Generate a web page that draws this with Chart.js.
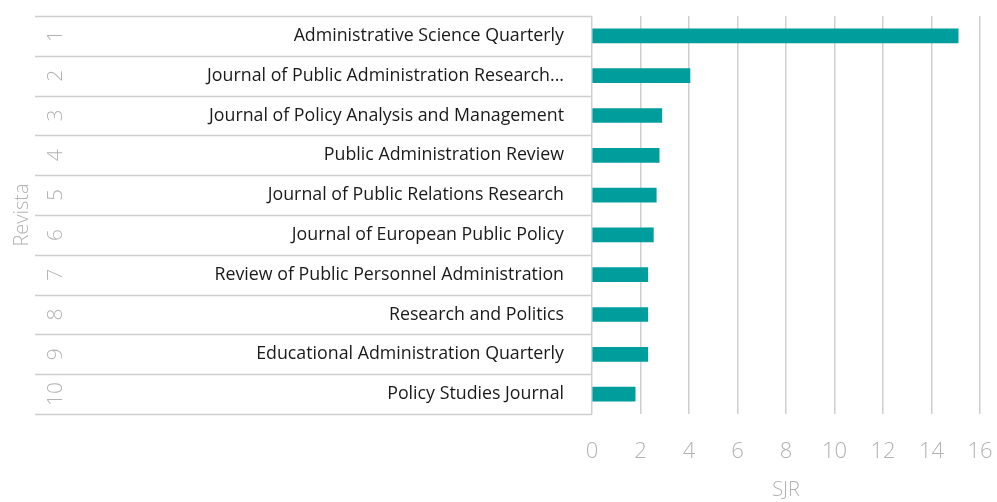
<!DOCTYPE html>
<html>
<head>
<meta charset="utf-8">
<script src="https://cdn.jsdelivr.net/npm/chart.js@4/dist/chart.umd.min.js"></script>
<style>
    html, body { margin: 0; padding: 0; background: #fff; }
    #wrap { width: 997px; height: 502px; }
</style>
</head>
<body>
<div id="wrap"><canvas id="chartSjr"></canvas></div>
<script>
var ranks = ['1', '2', '3', '4', '5', '6', '7', '8', '9', '10'];
var revistas = [
    'Administrative Science Quarterly',
    'Journal of Public Administration Research...',
    'Journal of Policy Analysis and Management',
    'Public Administration Review',
    'Journal of Public Relations Research',
    'Journal of European Public Policy',
    'Review of Public Personnel Administration',
    'Research and Politics',
    'Educational Administration Quarterly',
    'Policy Studies Journal'
];
var sjr = [15.1, 4.04, 2.88, 2.77, 2.65, 2.53, 2.3, 2.3, 2.3, 1.78];
var sjrTicks = [0, 2, 4, 6, 8, 10, 12, 14, 16];

var grisLinea = '#cfcfcf';
var grisTexto = '#b3b3b3';

// linee orizzontali tra le righe, solo nella zona delle etichette
var separatori = {
    id: 'separatori',
    afterDraw: function(chart) {
        var y = chart.scales.y;
        var ctx = chart.ctx;
        ctx.save();
        ctx.strokeStyle = grisLinea;
        ctx.lineWidth = 1.5;
        for (var i = 0; i <= revistas.length; i++) {
            var py = Math.round(y.getPixelForValue(i - 0.5)) + 0.5;
            ctx.beginPath();
            ctx.moveTo(35, py);
            ctx.lineTo(chart.chartArea.left, py);
            ctx.stroke();
        }
        ctx.restore();
    }
};

function senzaPadding(scale) {
    scale.paddingTop = 0;
    scale.paddingBottom = 0;
    scale.paddingLeft = 0;
    scale.paddingRight = 0;
}

var ctx = document.getElementById('chartSjr').getContext('2d');
var chart = new Chart(ctx, {
    type: 'bar',
    data: {
        labels: revistas,
        datasets: [{
            label: 'SJR',
            data: sjr,
            backgroundColor: '#009d9d',
            barThickness: 14,
            yAxisID: 'y'
        }]
    },
    options: {
        indexAxis: 'y',
        responsive: true,
        maintainAspectRatio: false,
        animation: false,
        layout: { padding: { top: 16, right: 17, left: 0, bottom: 0 } },
        plugins: {
            legend: { display: false },
            tooltip: { enabled: false }
        },
        scales: {
            x: {
                type: 'linear',
                min: 0,
                max: 16,
                afterBuildTicks: function(scale) {
                    scale.ticks = sjrTicks.map(function(v) { return { value: v }; });
                },
                grid: { color: grisLinea, lineWidth: 1.5, drawTicks: false },
                border: { display: false },
                ticks: {
                    padding: 25,
                    color: grisTexto,
                    font: { family: 'Open Sans', size: 22, weight: 300 }
                },
                title: {
                    display: true,
                    text: 'SJR',
                    color: grisTexto,
                    padding: { top: 12, bottom: 0 },
                    font: { family: 'Open Sans', size: 20, weight: 300 }
                },
                afterFit: function(scale) {
                    senzaPadding(scale);
                    scale.height = 88;
                }
            },
            y: {
                type: 'category',
                position: 'left',
                weight: 0,
                offset: true,
                grid: { display: false, drawTicks: false, offset: true },
                border: { display: false },
                ticks: {
                    padding: 28,
                    color: '#1a1a1a',
                    font: { family: 'Open Sans', size: 17.8, weight: 400 }
                },
                afterFit: function(scale) {
                    senzaPadding(scale);
                    scale.width = 517;
                }
            },
            yn: {
                type: 'category',
                axis: 'y',
                position: 'left',
                weight: 1,
                offset: true,
                labels: ranks,
                grid: { display: false, drawTicks: false, offset: true },
                border: { display: false },
                ticks: {
                    padding: 7,
                    crossAlign: 'center',
                    minRotation: 90,
                    maxRotation: 90,
                    color: grisTexto,
                    font: { family: 'Open Sans', size: 21, weight: 300 }
                },
                title: {
                    display: true,
                    text: 'Revista',
                    color: grisTexto,
                    padding: { top: 10, bottom: 0 },
                    font: { family: 'Open Sans', size: 20, weight: 300 }
                },
                afterFit: function(scale) {
                    senzaPadding(scale);
                    scale.width = 75;
                }
            }
        }
    },
    plugins: [separatori]
});
</script>
</body>
</html>
